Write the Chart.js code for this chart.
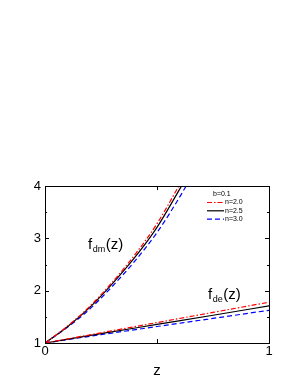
<!DOCTYPE html>
<html>
<head>
<meta charset="utf-8">
<script src="https://cdn.jsdelivr.net/npm/chart.js@4"></script>
<style>
  html, body { margin: 0; padding: 0; background: #fff; }
  #wrap { width: 298px; height: 385px; }
</style>
</head>
<body>
<div id="wrap"><canvas id="fChart"></canvas></div>
<script>
// values
const zDm = [0, 0.1, 0.2, 0.3, 0.4, 0.5, 0.6, 0.65];
const fdmN20 = [1, 1.32, 1.70, 2.16, 2.68, 3.28, 4.02, 4.40];
const fdmN25 = [1, 1.31, 1.68, 2.13, 2.63, 3.21, 3.93, 4.30];
const fdmN30 = [1, 1.30, 1.65, 2.08, 2.56, 3.11, 3.78, 4.15];

const zDe = [0, 0.25, 0.5, 0.75, 1];
const fdeN20 = [1, 1.195, 1.39, 1.585, 1.78];
const fdeN25 = [1, 1.18, 1.355, 1.53, 1.71];
const fdeN30 = [1, 1.16, 1.315, 1.47, 1.625];

const xTicks = [0, 1];
const yTicks = [1, 2, 3, 4];
const legendTitle = "b=0.1";
const legendLabels = ["n=2.0", "n=2.5", "n=3.0"];

const FONT = "'Liberation Sans', Arial, sans-serif";
const styles = [
    { color: "#ff0000", dash: [5, 2, 1.5, 2] },
    { color: "#000000", dash: [] },
    { color: "#0000ff", dash: [5, 3] }
];

function pts(xs, ys) {
    return xs.map((x, i) => ({ x: x, y: ys[i] }));
}

function line(xs, ys, s, label) {
    return {
        label: label,
        data: pts(xs, ys),
        borderColor: s.color,
        borderDash: s.dash,
        borderWidth: 1.2,
        pointRadius: 0,
        fill: false,
        cubicInterpolationMode: "monotone"
    };
}

const dmSets = [fdmN20, fdmN25, fdmN30];
const deSets = [fdeN20, fdeN25, fdeN30];
const datasets = [];
dmSets.forEach((ys, i) => datasets.push(line(zDm, ys, styles[i], legendLabels[i])));
deSets.forEach((ys, i) => datasets.push(line(zDe, ys, styles[i], legendLabels[i])));

// frame with inward ticks, legend and curve labels
const framePlugin = {
    id: "frame",
    afterDraw(chart) {
        const { ctx, chartArea: a, scales } = chart;
        const xs = scales.x, ys = scales.y;
        ctx.save();
        ctx.strokeStyle = "#000";
        ctx.lineWidth = 1;
        ctx.setLineDash([]);
        ctx.strokeRect(a.left + 0.5, a.top + 0.5, a.right - a.left, a.bottom - a.top);

        ctx.beginPath();
        [0.5].forEach(v => {
            const px = Math.round(xs.getPixelForValue(v)) + 0.5;
            ctx.moveTo(px, a.bottom); ctx.lineTo(px, a.bottom - 4);
            ctx.moveTo(px, a.top); ctx.lineTo(px, a.top + 4);
        });
        [1.5, 2, 2.5, 3, 3.5].forEach(v => {
            const py = Math.round(ys.getPixelForValue(v)) + 0.5;
            const len = Number.isInteger(v) ? 4 : 2;
            ctx.moveTo(a.left, py); ctx.lineTo(a.left + len, py);
            ctx.moveTo(a.right, py); ctx.lineTo(a.right - len, py);
        });
        ctx.stroke();

        // legend
        ctx.fillStyle = "#000";
        ctx.font = "7px " + FONT;
        ctx.textBaseline = "middle";
        ctx.textAlign = "left";
        ctx.fillText(legendTitle, 213, 194);
        legendLabels.forEach((lab, i) => {
            const y = 202.5 + i * 8.3;
            const ds = chart.data.datasets[i];
            ctx.beginPath();
            ctx.strokeStyle = ds.borderColor;
            ctx.setLineDash(ds.borderDash);
            ctx.lineWidth = 1.2;
            ctx.moveTo(207, y); ctx.lineTo(224, y);
            ctx.stroke();
            ctx.setLineDash([]);
            ctx.fillText(lab, 225, y);
        });

        // curve labels
        function fLabel(x, y, sub) {
            ctx.font = "15px " + FONT;
            ctx.textBaseline = "alphabetic";
            ctx.fillText("f", x, y);
            let w = ctx.measureText("f").width;
            ctx.font = "9px " + FONT;
            ctx.fillText(sub, x + w + 0.5, y + 3);
            w += ctx.measureText(sub).width + 1;
            ctx.font = "15px " + FONT;
            ctx.fillText("(z)", x + w, y);
        }
        fLabel(88, 249, "dm");
        fLabel(208, 299, "de");
        ctx.restore();
    }
};

new Chart(document.getElementById("fChart"), {
    type: "line",
    data: { datasets: datasets },
    options: {
        responsive: true,
        maintainAspectRatio: false,
        animation: false,
        layout: { padding: { top: 186, right: 29, left: 0, bottom: 0 } },
        plugins: { legend: { display: false }, tooltip: { enabled: false } },
        scales: {
            x: {
                type: "linear",
                min: 0,
                max: 1,
                afterFit: s => { s.height = 42; },
                afterBuildTicks: s => { s.ticks = xTicks.map(v => ({ value: v })); },
                grid: { display: false, drawTicks: false },
                border: { display: false },
                ticks: { color: "#000", font: { family: FONT, size: 13 }, padding: 1, maxRotation: 0 },
                title: { display: true, text: "z", color: "#000", font: { family: FONT, size: 15 }, padding: { bottom: 5 } }
            },
            y: {
                type: "linear",
                min: 1,
                max: 4,
                afterFit: s => { s.width = 45; },
                afterBuildTicks: s => { s.ticks = yTicks.map(v => ({ value: v })); },
                grid: { display: false, drawTicks: false },
                border: { display: false },
                ticks: { color: "#000", font: { family: FONT, size: 13 }, padding: 4 }
            }
        }
    },
    plugins: [framePlugin]
});
</script>
</body>
</html>
